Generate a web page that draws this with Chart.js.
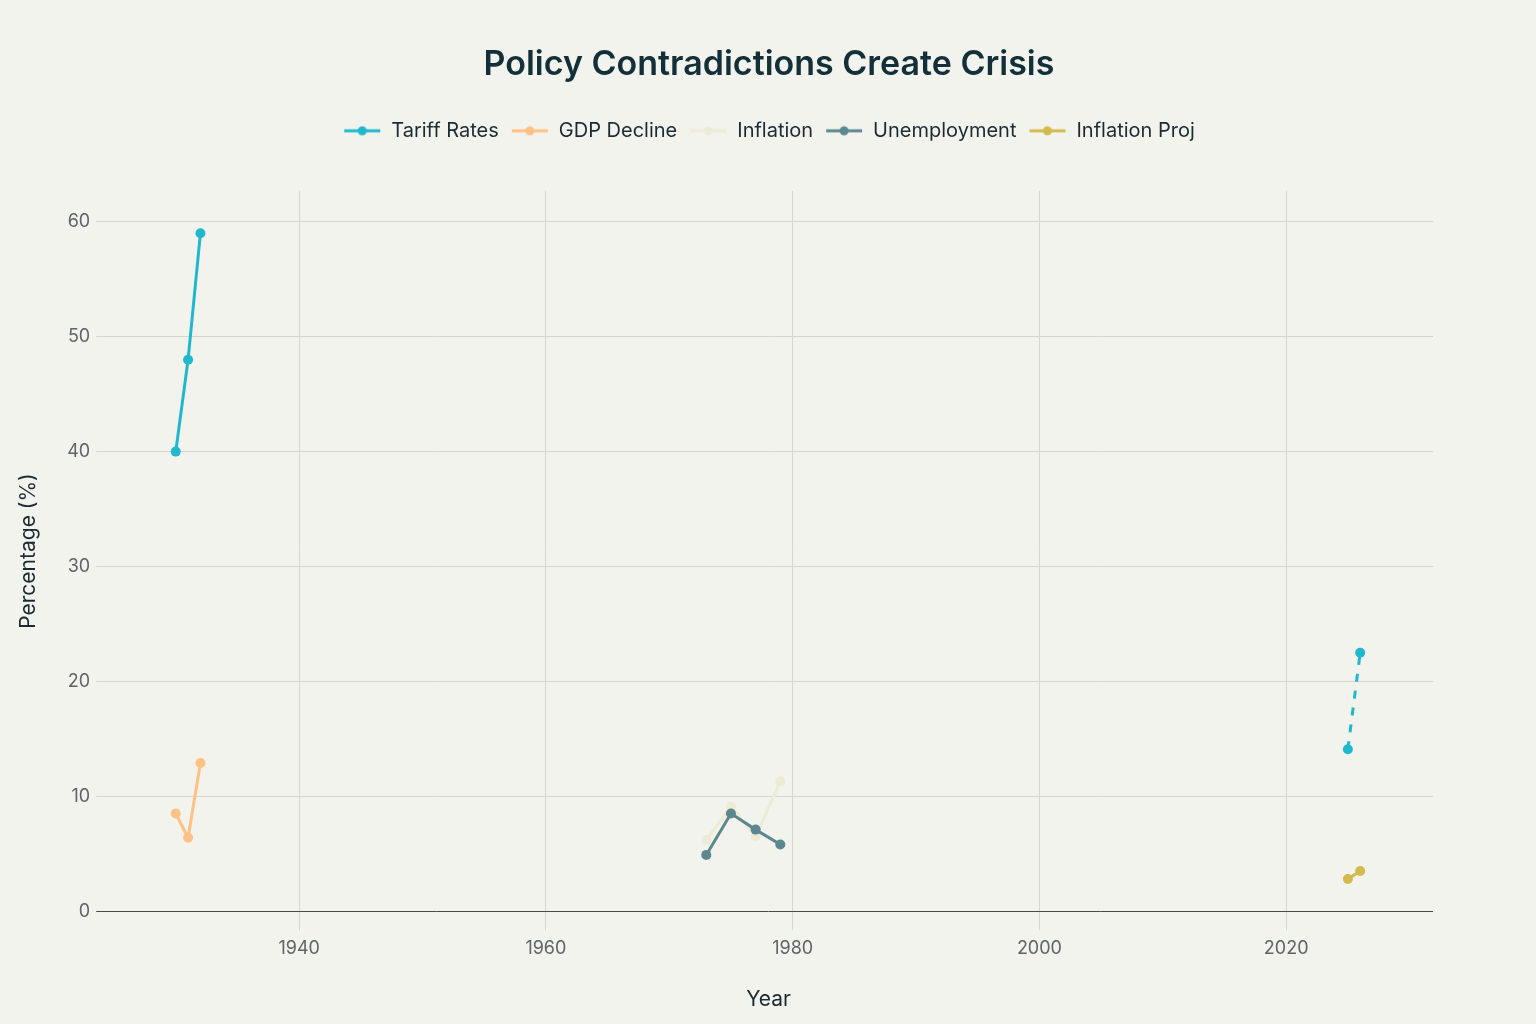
<!DOCTYPE html>
<html>
<head>
<meta charset="utf-8">
<script src="https://cdn.jsdelivr.net/npm/chart.js@4.4.1/dist/chart.umd.min.js"></script>
<style>
  html, body { margin: 0; padding: 0; background: #F3F3EE; }
  #wrap { width: 1536px; height: 1024px; }
</style>
</head>
<body>
<div id="wrap"><canvas id="policyChart" width="1536" height="1024"></canvas></div>
<script>
// data
const tariffYears = [1930, 1931, 1932];
const tariffRates = [40, 48, 59];
const tariffProjYears = [2025, 2026];
const tariffProjRates = [14.1, 22.5];
const gdpYears = [1930, 1931, 1932];
const gdpDecline = [8.5, 6.4, 12.9];
const stagYears = [1973, 1975, 1977, 1979];
const inflation = [6.2, 9.1, 6.5, 11.3];
const unemployment = [4.9, 8.5, 7.1, 5.8];
const projYears = [2025, 2026];
const inflationProj = [2.8, 3.5];
const xTicks = [1940, 1960, 1980, 2000, 2020];
const yTicks = [0, 10, 20, 30, 40, 50, 60];

const toPoints = (xs, ys) => xs.map((x, i) => ({ x: x, y: ys[i] }));

// little line+dot swatch for the legend
function swatch(color) {
  const c = document.createElement('canvas');
  c.width = 38; c.height = 12;
  const g = c.getContext('2d');
  g.strokeStyle = color;
  g.lineWidth = 3;
  g.beginPath(); g.moveTo(1, 6); g.lineTo(37, 6); g.stroke();
  g.fillStyle = color;
  g.beginPath(); g.arc(19, 6, 4.5, 0, Math.PI * 2); g.fill();
  return c;
}

function lineSet(label, points, color, extra) {
  return Object.assign({
    label: label,
    data: points,
    borderColor: color,
    backgroundColor: color,
    borderWidth: 3,
    pointRadius: 5,
    pointHoverRadius: 6,
    pointBorderWidth: 0,
    tension: 0,
    order: 0
  }, extra || {});
}

const legendPad = {
  id: 'legendPad',
  beforeInit(chart) {
    const fit = chart.legend.fit;
    chart.legend.fit = function () {
      fit.bind(chart.legend)();
      this.height += 40;
    };
  }
};

const ctx = document.getElementById('policyChart').getContext('2d');
const policyChart = new Chart(ctx, {
  type: 'line',
  data: {
    datasets: [
      lineSet('Tariff Rates', toPoints(tariffYears, tariffRates), '#1FB8CD'),
      lineSet('GDP Decline', toPoints(gdpYears, gdpDecline), '#FFC185'),
      lineSet('Inflation', toPoints(stagYears, inflation), '#ECEBD5', { order: 1 }),
      lineSet('Unemployment', toPoints(stagYears, unemployment), '#5D878F'),
      lineSet('Inflation Proj', toPoints(projYears, inflationProj), '#D2BA4C'),
      lineSet('Tariff Proj', toPoints(tariffProjYears, tariffProjRates), '#1FB8CD', { borderDash: [8, 9] })
    ]
  },
  options: {
    responsive: false,
    animation: false,
    devicePixelRatio: 1,
    layout: { padding: { top: 44, right: 14, bottom: 12, left: 16 } },
    plugins: {
      title: {
        display: true,
        text: 'Policy Contradictions Create Crisis',
        color: '#13303A',
        font: { family: 'Inter', size: 34, weight: '600' },
        padding: { top: 0, bottom: 24 }
      },
      legend: {
        display: true,
        position: 'top',
        labels: {
          filter: item => item.text !== 'Tariff Proj',
          sort: (a, b) => a.datasetIndex - b.datasetIndex,
          usePointStyle: true,
          pointStyleWidth: 38,
          generateLabels(chart) {
            const items = Chart.defaults.plugins.legend.labels.generateLabels(chart);
            items.forEach(it => {
              it.pointStyle = swatch(chart.data.datasets[it.datasetIndex].borderColor);
            });
            return items;
          },
          color: '#1C2B33',
          font: { family: 'Inter', size: 20 },
          padding: 12
        }
      },
      tooltip: { enabled: false }
    },
    scales: {
      x: {
        type: 'linear',
        min: 1924.2,
        max: 2031.9,
        afterBuildTicks: axis => { axis.ticks = xTicks.map(v => ({ value: v })); },
        grid: { color: '#D6D6D0', lineWidth: 1, tickLength: 19, drawTicks: true },
        border: { display: false },
        ticks: {
          color: '#5F6468',
          font: { family: 'Inter', size: 18 },
          padding: 7.5,
          maxRotation: 0,
          callback: v => String(v)
        },
        title: {
          display: true,
          text: 'Year',
          color: '#1C2B33',
          font: { family: 'Inter', size: 21 },
          padding: { top: 20, bottom: 0 }
        }
      },
      y: {
        min: 0,
        max: 62.7,
        afterBuildTicks: axis => { axis.ticks = yTicks.map(v => ({ value: v })); },
        grid: {
          color: c => (c.tick && c.tick.value === 0 ? '#4A4A4A' : '#D6D6D0'),
          lineWidth: 1,
          tickLength: 8
        },
        border: { display: false },
        ticks: {
          color: '#5F6468',
          font: { family: 'Inter', size: 18 },
          padding: 6
        },
        title: {
          display: true,
          text: 'Percentage (%)',
          color: '#1C2B33',
          font: { family: 'Inter', size: 21 },
          padding: { top: 0, bottom: 20 }
        }
      },
      // empty right-hand axis, only there to keep the right margin
      yRight: {
        position: 'right',
        display: true,
        grid: { display: false },
        border: { display: false },
        ticks: { display: false },
        afterFit: axis => { axis.width = 89; }
      }
    }
  },
  plugins: [legendPad]
});
</script>
</body>
</html>
